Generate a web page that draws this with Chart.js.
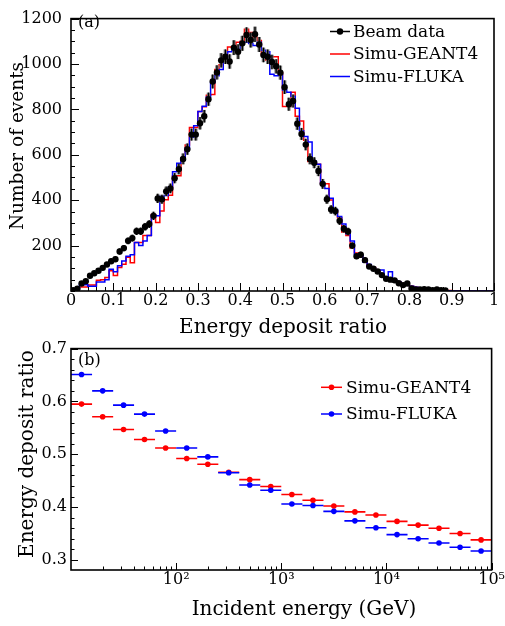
<!DOCTYPE html>
<html><head><meta charset="utf-8">
<script src="https://cdn.jsdelivr.net/npm/chart.js@4.4.1/dist/chart.umd.min.js"></script>
<style>
html,body{margin:0;padding:0;background:#fff;}
#wrap{position:relative;width:505px;height:626px;overflow:hidden;background:#fff;}
#a{position:absolute;left:0;top:0;}
#b{position:absolute;left:0;top:335px;}
</style></head><body>
<div id="wrap">
<canvas id="a" width="505" height="340"></canvas>
<canvas id="b" width="505" height="291"></canvas>
</div>
<script>
// ---------- Panel (a) data: histogram of energy deposit ratio, bins of 0.01 ----------
const binWidth = 0.01;
const beamCounts = [3,10,33,43,67,78,89,102,117,131,140,174,189,221,233,263,263,283,295,331,
  408,404,439,452,497,537,582,625,689,689,739,770,845,923,963,1016,1032,1011,1072,1054,
  1091,1128,1106,1131,1086,1040,1032,1009,990,962,898,823,837,737,692,645,582,565,529,472,
  404,359,352,309,274,262,200,153,160,136,108,98,86,70,54,50,47,34,26,33,
  11,7,7,8,7,3,7,3,2];
const geant4Counts = [2,12,18,18,26,26,47,50,60,89,68,103,118,149,125,214,214,245,245,337,
  302,352,402,422,508,508,586,643,720,720,791,812,862,866,976,997,1040,1075,1067,1096,
  1100,1153,1139,1118,1104,1040,1018,1032,1032,962,813,813,876,770,749,664,571,565,558,472,
  472,401,352,323,260,245,189,167,150,130,111,103,89,66,60,50,47,40,33,26,
  21,16,11,10,6,6,3,3,2,2,0,0,0,0,0,0,0,0,0,0];
const flukaCounts = [2,8,30,28,21,21,40,40,50,96,85,111,132,153,160,214,200,220,245,334,
  331,417,421,457,525,563,586,629,677,728,791,814,855,919,948,976,1026,1054,1057,1068,
  1096,1096,1090,1082,1096,1061,1054,955,948,955,886,876,858,805,706,681,656,572,558,472,
  451,409,359,328,295,252,220,160,155,128,117,101,92,92,54,85,49,40,30,26,
  21,16,9,9,6,5,3,3,2,1,0,0,0,0,0,0,0,0,0,0];
const xTicksA = [0,0.1,0.2,0.3,0.4,0.5,0.6,0.7,0.8,0.9,1];
const xTickLabelsA = ['0','0.1','0.2','0.3','0.4','0.5','0.6','0.7','0.8','0.9','1'];
const yTicksA = [200,400,600,800,1000,1200];
const yTickLabelsA = ['200','400','600','800','1000','1200'];

// ---------- Panel (b) data: mean energy deposit ratio vs incident energy ----------
const energies = [12.6,20,31.6,50,79.4,126,200,316,501,794,1260,2000,3160,5010,7940,12600,20000,31600,50100,79400];
const geant4Ratio = [0.595,0.571,0.547,0.528,0.512,0.492,0.481,0.466,0.452,0.439,0.424,0.413,0.402,0.391,0.385,0.373,0.366,0.360,0.350,0.338];
const flukaRatio  = [0.651,0.620,0.593,0.576,0.544,0.512,0.495,0.465,0.442,0.432,0.406,0.403,0.392,0.374,0.361,0.348,0.340,0.332,0.324,0.317];
const energyHalfWidthDecades = 0.1;
const xTicksB = [100,1000,10000,100000];
const xTickLabelsB = ['10\u00B2','10\u00B3','10\u2074','10\u2075'];
const yTicksB = [0.3,0.4,0.5,0.6,0.7];
const yTickLabelsB = ['0.3','0.4','0.5','0.6','0.7'];

const FONT = "'DejaVu Serif', 'Liberation Serif', serif";

// ---------- plugins ----------
const framePlugin = {
  id: 'frame',
  afterDraw(chart, args, o) {
    const {ctx, chartArea: ca} = chart;
    const xs = chart.scales.x, ys = chart.scales.y;
    ctx.save();
    ctx.strokeStyle = '#000';
    ctx.lineWidth = 1;
    ctx.beginPath();
    const tx = (vals, len) => vals.forEach(v => {
      const p = Math.round(xs.getPixelForValue(v)) + 0.5;
      ctx.moveTo(p, ca.bottom); ctx.lineTo(p, ca.bottom - len);
    });
    const ty = (vals, len) => vals.forEach(v => {
      const p = Math.round(ys.getPixelForValue(v)) + 0.5;
      ctx.moveTo(ca.left, p); ctx.lineTo(ca.left + len, p);
    });
    tx(o.xMajor, o.majorLen); tx(o.xMinor, o.minorLen);
    ty(o.yMajor, o.majorLen); ty(o.yMinor, o.minorLen);
    ctx.stroke();
    ctx.lineWidth = 1.6;
    ctx.strokeRect(ca.left, ca.top, ca.right - ca.left, ca.bottom - ca.top);
    ctx.fillStyle = '#000';
    ctx.font = '16px ' + FONT;
    ctx.textBaseline = 'alphabetic';
    ctx.textAlign = 'left';
    ctx.fillText(o.panel.text, o.panel.x, o.panel.y);
    o.titles.forEach(t => {
      ctx.save();
      ctx.font = (t.size || 20) + 'px ' + FONT;
      ctx.translate(t.x, t.y);
      if (t.rot) ctx.rotate(-Math.PI / 2);
      ctx.textAlign = 'center';
      ctx.textBaseline = 'alphabetic';
      ctx.fillText(t.text, 0, 0);
      ctx.restore();
    });
    // legend
    const L = o.legend;
    ctx.font = '17px ' + FONT;
    ctx.textBaseline = 'middle';
    ctx.textAlign = 'left';
    L.items.forEach((idx, k) => {
      const ds = chart.data.datasets[idx];
      const y = L.y0 + k * L.dy;
      ctx.strokeStyle = ds.legendColor;
      ctx.lineWidth = 1.5;
      ctx.beginPath(); ctx.moveTo(L.x0, y); ctx.lineTo(L.x1, y); ctx.stroke();
      if (ds.legendDot) {
        ctx.fillStyle = ds.legendColor;
        ctx.beginPath(); ctx.arc((L.x0 + L.x1) / 2, y, ds.legendDot, 0, Math.PI * 2); ctx.fill();
      }
      ctx.fillStyle = '#000';
      ctx.fillText(ds.label, L.tx, y + 1);
    });
    ctx.restore();
  }
};

const errorBarsA = {
  id: 'errA',
  beforeDatasetDraw(chart, args) {
    const ds = chart.data.datasets[args.index];
    if (!ds.isData) return;
    const {ctx} = chart; const xs = chart.scales.x, ys = chart.scales.y;
    ctx.save();
    ds.data.forEach(p => {
      const e = Math.sqrt(p.y);
      const px = xs.getPixelForValue(p.x);
      const y1 = ys.getPixelForValue(Math.max(0, p.y - e)), y2 = ys.getPixelForValue(p.y + e);
      ctx.strokeStyle = 'rgba(110,110,110,0.85)'; ctx.lineWidth = 3.5;
      ctx.beginPath(); ctx.moveTo(px, y1); ctx.lineTo(px, y2); ctx.stroke();
      ctx.strokeStyle = '#000'; ctx.lineWidth = 1.3;
      ctx.beginPath(); ctx.moveTo(px, y1); ctx.lineTo(px, y2); ctx.stroke();
    });
    ctx.restore();
  }
};

const errorBarsB = {
  id: 'errB',
  beforeDatasetDraw(chart, args) {
    const ds = chart.data.datasets[args.index];
    const {ctx} = chart; const xs = chart.scales.x, ys = chart.scales.y;
    const f = Math.pow(10, energyHalfWidthDecades);
    ctx.save();
    ctx.strokeStyle = ds.legendColor; ctx.lineWidth = 1.6;
    ctx.beginPath();
    ds.data.forEach(p => {
      const py = ys.getPixelForValue(p.y);
      ctx.moveTo(xs.getPixelForValue(p.x / f), py);
      ctx.lineTo(xs.getPixelForValue(p.x * f), py);
    });
    ctx.stroke();
    ctx.restore();
  }
};

function range(a, b, s) { const r = []; for (let v = a; v <= b + 1e-9; v += s) r.push(+v.toFixed(6)); return r; }
const histPoints = counts => {
  const pts = counts.map((c, i) => ({x: +(i * binWidth).toFixed(4), y: c}));
  pts.push({x: +(counts.length * binWidth).toFixed(4), y: counts[counts.length - 1]});
  return pts;
};

const tickFont = {family: FONT, size: 16};

// ---------- Chart (a) ----------
new Chart(document.getElementById('a'), {
  type: 'scatter',
  data: {
    datasets: [
      {label: 'Beam data', isData: true, data: beamCounts.map((c, i) => ({x: +((i + 0.5) * binWidth).toFixed(4), y: c})),
       showLine: false, pointRadius: 3.2, pointBackgroundColor: '#000', pointBorderWidth: 0,
       legendColor: '#000', legendDot: 3.2, order: 0},
      {label: 'Simu-GEANT4', data: histPoints(geant4Counts), showLine: true, stepped: 'before',
       borderColor: '#ff0000', borderWidth: 1.5, pointRadius: 0, legendColor: '#ff0000', order: 2},
      {label: 'Simu-FLUKA', data: histPoints(flukaCounts), showLine: true, stepped: 'before',
       borderColor: '#0000ff', borderWidth: 1.5, pointRadius: 0, legendColor: '#0000ff', order: 1}
    ]
  },
  options: {
    responsive: false, animation: false, events: [],
    layout: {padding: {left: 0, right: 11, top: 9, bottom: 0}},
    plugins: {
      legend: {display: false}, tooltip: {enabled: false},
      frame: {
        xMajor: xTicksA, xMinor: range(0, 1, 0.02), yMajor: yTicksA, yMinor: range(0, 1200, 50),
        majorLen: 8, minorLen: 4,
        panel: {text: '(a)', x: 78, y: 27},
        titles: [
          {text: 'Energy deposit ratio', x: 283, y: 333},
          {text: 'Number of events', x: 23, y: 146, rot: true, size: 18.5}
        ],
        legend: {items: [0, 1, 2], x0: 330, x1: 350, tx: 353, y0: 31.5, dy: 22.5}
      }
    },
    scales: {
      x: {type: 'linear', min: 0, max: 1,
          grid: {display: false, drawTicks: false}, border: {display: false},
          ticks: {padding: 0, font: tickFont, color: '#000', autoSkip: false, maxRotation: 0,
                  callback: (v, i) => xTickLabelsA[i]},
          afterBuildTicks: s => { s.ticks = xTicksA.map(v => ({value: v})); },
          afterFit: s => { s.height = 49; }},
      y: {type: 'linear', min: 0, max: 1200,
          grid: {display: false, drawTicks: false}, border: {display: false},
          ticks: {padding: 9, font: tickFont, color: '#000', autoSkip: false,
                  callback: (v, i) => yTickLabelsA[i]},
          afterBuildTicks: s => { s.ticks = yTicksA.map(v => ({value: v})); },
          afterFit: s => { s.width = 71; }}
    }
  },
  plugins: [framePlugin, errorBarsA]
});

// ---------- Chart (b) ----------
const minorLog = [];
[10, 100, 1000, 10000].forEach(d => { for (let m = 2; m <= 9; m++) minorLog.push(m * d); });

new Chart(document.getElementById('b'), {
  type: 'scatter',
  data: {
    datasets: [
      {label: 'Simu-GEANT4', data: energies.map((e, i) => ({x: e, y: geant4Ratio[i]})),
       pointRadius: 2.8, pointBackgroundColor: '#ff0000', pointBorderWidth: 0, legendColor: '#ff0000', legendDot: 2.8, order: 1},
      {label: 'Simu-FLUKA', data: energies.map((e, i) => ({x: e, y: flukaRatio[i]})),
       pointRadius: 2.8, pointBackgroundColor: '#0000ff', pointBorderWidth: 0, legendColor: '#0000ff', legendDot: 2.8, order: 0}
    ]
  },
  options: {
    responsive: false, animation: false, events: [],
    layout: {padding: {left: 0, right: 10, top: 13, bottom: 0}},
    plugins: {
      legend: {display: false}, tooltip: {enabled: false},
      frame: {
        xMajor: xTicksB, xMinor: minorLog, yMajor: yTicksB, yMinor: range(0.3, 0.7, 0.02),
        majorLen: 7, minorLen: 3.5,
        panel: {text: '(b)', x: 78, y: 30},
        titles: [
          {text: 'Incident energy (GeV)', x: 304, y: 280},
          {text: 'Energy deposit ratio', x: 33, y: 119, rot: true}
        ],
        legend: {items: [0, 1], x0: 321, x1: 342, tx: 346, y0: 52.3, dy: 26.7}
      }
    },
    scales: {
      x: {type: 'logarithmic', min: 10, max: 100000,
          grid: {display: false, drawTicks: false}, border: {display: false},
          ticks: {padding: 0, font: tickFont, color: '#000', autoSkip: false, maxRotation: 0,
                  callback: (v, i) => xTickLabelsB[i]},
          afterBuildTicks: s => { s.ticks = xTicksB.map(v => ({value: v})); },
          afterFit: s => { s.height = 56; }},
      y: {type: 'linear', min: 0.281, max: 0.7,
          grid: {display: false, drawTicks: false}, border: {display: false},
          ticks: {padding: 4, font: tickFont, color: '#000', autoSkip: false,
                  callback: (v, i) => yTickLabelsB[i]},
          afterBuildTicks: s => { s.ticks = yTicksB.map(v => ({value: v})); },
          afterFit: s => { s.width = 71; }}
    }
  },
  plugins: [framePlugin, errorBarsB]
});
</script>
</body></html>
